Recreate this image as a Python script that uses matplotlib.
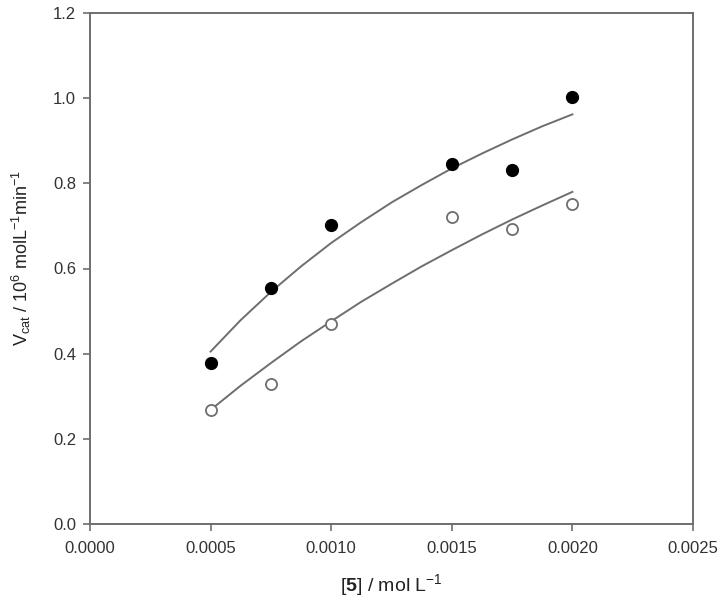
import matplotlib
matplotlib.use("Agg")
import matplotlib.pyplot as plt

plt.rcParams['font.family'] = ['Liberation Sans', 'DejaVu Sans']
plt.rcParams['mathtext.fontset'] = 'custom'
plt.rcParams['mathtext.rm'] = 'Liberation Sans'
plt.rcParams['mathtext.bf'] = 'Liberation Sans:bold'

# measured points
conc = [0.0005, 0.00075, 0.0010, 0.0015, 0.00175, 0.0020]
v_filled = [0.377, 0.554, 0.703, 0.845, 0.832, 1.002]
v_open = [0.268, 0.329, 0.470, 0.721, 0.693, 0.752]

# fitted curves
curve_x = [0.0005, 0.000625, 0.00075, 0.000875, 0.0010, 0.001125, 0.00125,
           0.001375, 0.0015, 0.001625, 0.00175, 0.001875, 0.0020]
curve_filled = [0.405, 0.479, 0.545, 0.605, 0.660, 0.709, 0.755,
                0.796, 0.835, 0.870, 0.903, 0.934, 0.962]
curve_open = [0.268, 0.325, 0.378, 0.429, 0.476, 0.522, 0.564,
              0.605, 0.643, 0.680, 0.715, 0.748, 0.780]

xticks = [0.0000, 0.0005, 0.0010, 0.0015, 0.0020, 0.0025]
yticks = [0.0, 0.2, 0.4, 0.6, 0.8, 1.0, 1.2]

grey = '#6e6e6e'

fig = plt.figure(figsize=(7.26, 6.06), dpi=100)
ax = fig.add_axes([90/726, 1-524/606, 603/726, 511/606])

ax.plot(curve_x, curve_filled, color=grey, lw=1.4)
ax.plot(curve_x, curve_open, color=grey, lw=1.4)
ax.plot(conc, v_filled, 'o', color='black', ms=8.5, zorder=3)
ax.plot(conc, v_open, 'o', mfc='white', mec=grey, mew=1.3, ms=8, zorder=3)

ax.set_xlim(0, 0.0025)
ax.set_ylim(0, 1.2)
ax.set_xticks(xticks)
ax.set_xticklabels(['%.4f' % t for t in xticks])
ax.set_yticks(yticks)
ax.set_yticklabels(['%.1f' % t for t in yticks])

for s in ax.spines.values():
    s.set_color(grey)
    s.set_linewidth(1.4)
ax.tick_params(direction='out', length=5, width=1.2, color=grey,
               labelsize=12, labelcolor='#333333')
ax.tick_params(axis='x', pad=7)
ax.tick_params(axis='y', pad=5)

ax.set_xlabel(r'[$\mathbf{5}$] / mol L$^{-1}$', fontsize=14, color='#222222', labelpad=12)
ax.set_ylabel(r'V$_{\mathrm{cat}}$ / 10$^{6}$ molL$^{-1}$min$^{-1}$', fontsize=13,
              color='#222222')
ax.yaxis.set_label_coords(-0.095, 0.52)

fig.savefig('out.png', dpi=100)
